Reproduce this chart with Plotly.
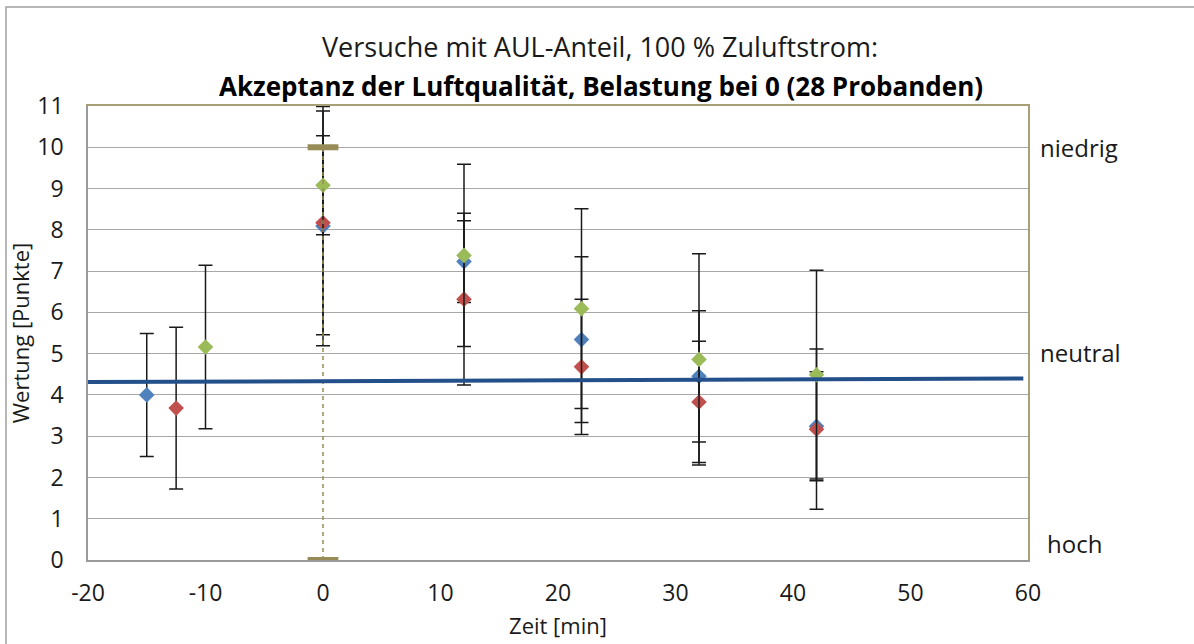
import plotly.graph_objects as go

# ---- data ----
x_blue = [-15, 0, 12, 22, 32, 42]
y_blue = [4.00, 8.09, 7.23, 5.34, 4.45, 3.24]
e_blue = [1.49, 2.90, 0.99, 2.01, 1.59, 1.32]

x_red = [-12.5, 0, 12, 22, 32, 42]
y_red = [3.68, 8.17, 6.32, 4.68, 3.83, 3.17]
e_red = [1.96, 2.71, 2.08, 1.64, 1.47, 1.94]

x_green = [-10, 0, 12, 22, 32, 42]
y_green = [5.16, 9.08, 7.38, 6.09, 4.86, 4.49]
e_green = [1.98, 1.20, 2.21, 2.42, 2.56, 2.53]

x_load = [0, 0]
y_load = [0, 10]

x_trend = [-20, 59.6]
y_trend = [4.31, 4.40]

x_ticks = [-20, -10, 0, 10, 20, 30, 40, 50, 60]
x_ticktext = ["-20", "-10", "0", "10", "20", "30", "40", "50", "60"]
y_ticks = list(range(0, 12))

right_labels = ["niedrig", "neutral", "hoch"]
right_label_y = [10, 5.02, 0.39]

title1 = "Versuche mit AUL-Anteil, 100 % Zuluftstrom:"
title2 = "Akzeptanz der Luftqualität, Belastung bei 0 (28 Probanden)"

# ---- styling ----
W, H = 1194, 644
L, R, T, B = 88, 1028, 106, 560
FONT = "Open Sans"
BLUE, RED, GREEN = "#4F81BD", "#C0504D", "#9BBB59"
OLIVE = "#978C57"
BORDER_OLIVE = "#A89F76"
GRID = "#A8A8A8"
TREND = "#23508A"
TXT = "#1a1a1a"

def err(vals):
    return dict(type="data", array=vals, visible=True, color="#1A1A1A",
                thickness=1.5, width=7)

fig = go.Figure()
for xs, ys, es, c in [(x_blue, y_blue, e_blue, BLUE),
                      (x_red, y_red, e_red, RED),
                      (x_green, y_green, e_green, GREEN)]:
    fig.add_trace(go.Scatter(x=xs, y=ys, mode="markers", error_y=err(es),
                             marker=dict(symbol="diamond", size=12, color=c,
                                         line=dict(width=0)),
                             showlegend=False))

fig.add_trace(go.Scatter(x=x_load, y=y_load, mode="lines+markers",
                         xaxis="x2", yaxis="y2",
                         line=dict(color=OLIVE, width=1.5, dash="4px,4px"),
                         marker=dict(symbol="line-ew", size=22,
                                     line=dict(color=OLIVE, width=6)),
                         showlegend=False))
fig.add_trace(go.Scatter(x=x_trend, y=y_trend, mode="lines",
                         xaxis="x2", yaxis="y2",
                         line=dict(color=TREND, width=4), showlegend=False))

axis_font = dict(family=FONT, size=23, color=TXT)
title_font = dict(family=FONT, size=22, color=TXT)
fig.update_layout(
    width=W, height=H,
    margin=dict(l=L, r=W - R, t=T, b=H - B),
    paper_bgcolor="white", plot_bgcolor="white",
    showlegend=False,
    xaxis=dict(range=[-20, 60], tickvals=x_ticks, ticktext=x_ticktext,
               showgrid=False, zeroline=False, showline=True, automargin=False,
               linecolor="#9A9A9A", linewidth=1.5,
               ticks="outside", ticklen=12, tickcolor="rgba(0,0,0,0)",
               tickfont=axis_font,
               title=dict(text="Zeit [min]", font=title_font, standoff=11)),
    yaxis=dict(range=[0, 11], tickvals=y_ticks, showgrid=True, gridcolor=GRID,
               gridwidth=1.3, zeroline=False, showline=True, linecolor="#9A9A9A",
               linewidth=1.5, ticks="outside", ticklen=18, automargin=False,
               tickcolor="rgba(0,0,0,0)", tickfont=axis_font,
               title=dict(text="Wertung [Punkte]", font=title_font, standoff=2)),
    xaxis2=dict(range=[-20, 60], overlaying="x", side="top", showgrid=False,
                zeroline=False, showline=True, linecolor=BORDER_OLIVE, linewidth=1.5,
                showticklabels=False, ticks="", automargin=False),
    yaxis2=dict(range=[0, 11], overlaying="y", side="right", showgrid=False,
                zeroline=False, showline=True, linecolor=BORDER_OLIVE, linewidth=1.5,
                showticklabels=False, ticks="", automargin=False),
)

pw = R - L
def px(xpix):
    return (xpix - L) / pw
def py(ypix):
    return (B - ypix) / (B - T)

fig.add_annotation(text=title1, xref="paper", yref="paper", x=px(600), y=py(47),
                   showarrow=False, xanchor="center", yanchor="middle",
                   font=dict(family=FONT, size=27, color=TXT))
fig.add_annotation(text="<b>" + title2 + "</b>", xref="paper", yref="paper",
                   x=px(601), y=py(86), showarrow=False, xanchor="center",
                   yanchor="middle", font=dict(family=FONT, size=26, color="#000000"))

label_x = [1038, 1038, 1045]
for txt, yv, lx in zip(right_labels, right_label_y, label_x):
    fig.add_annotation(text=txt, xref="paper", yref="y", x=px(lx), y=yv,
                       showarrow=False, xanchor="left", yanchor="middle",
                       font=dict(family=FONT, size=24, color=TXT))

# outer chart frame
fig.add_shape(type="rect", xref="paper", yref="paper",
              x0=px(6), x1=px(1210), y0=py(660), y1=py(7),
              line=dict(color="#A0A0A0", width=1.5), layer="below")

fig.write_html("out.html")
